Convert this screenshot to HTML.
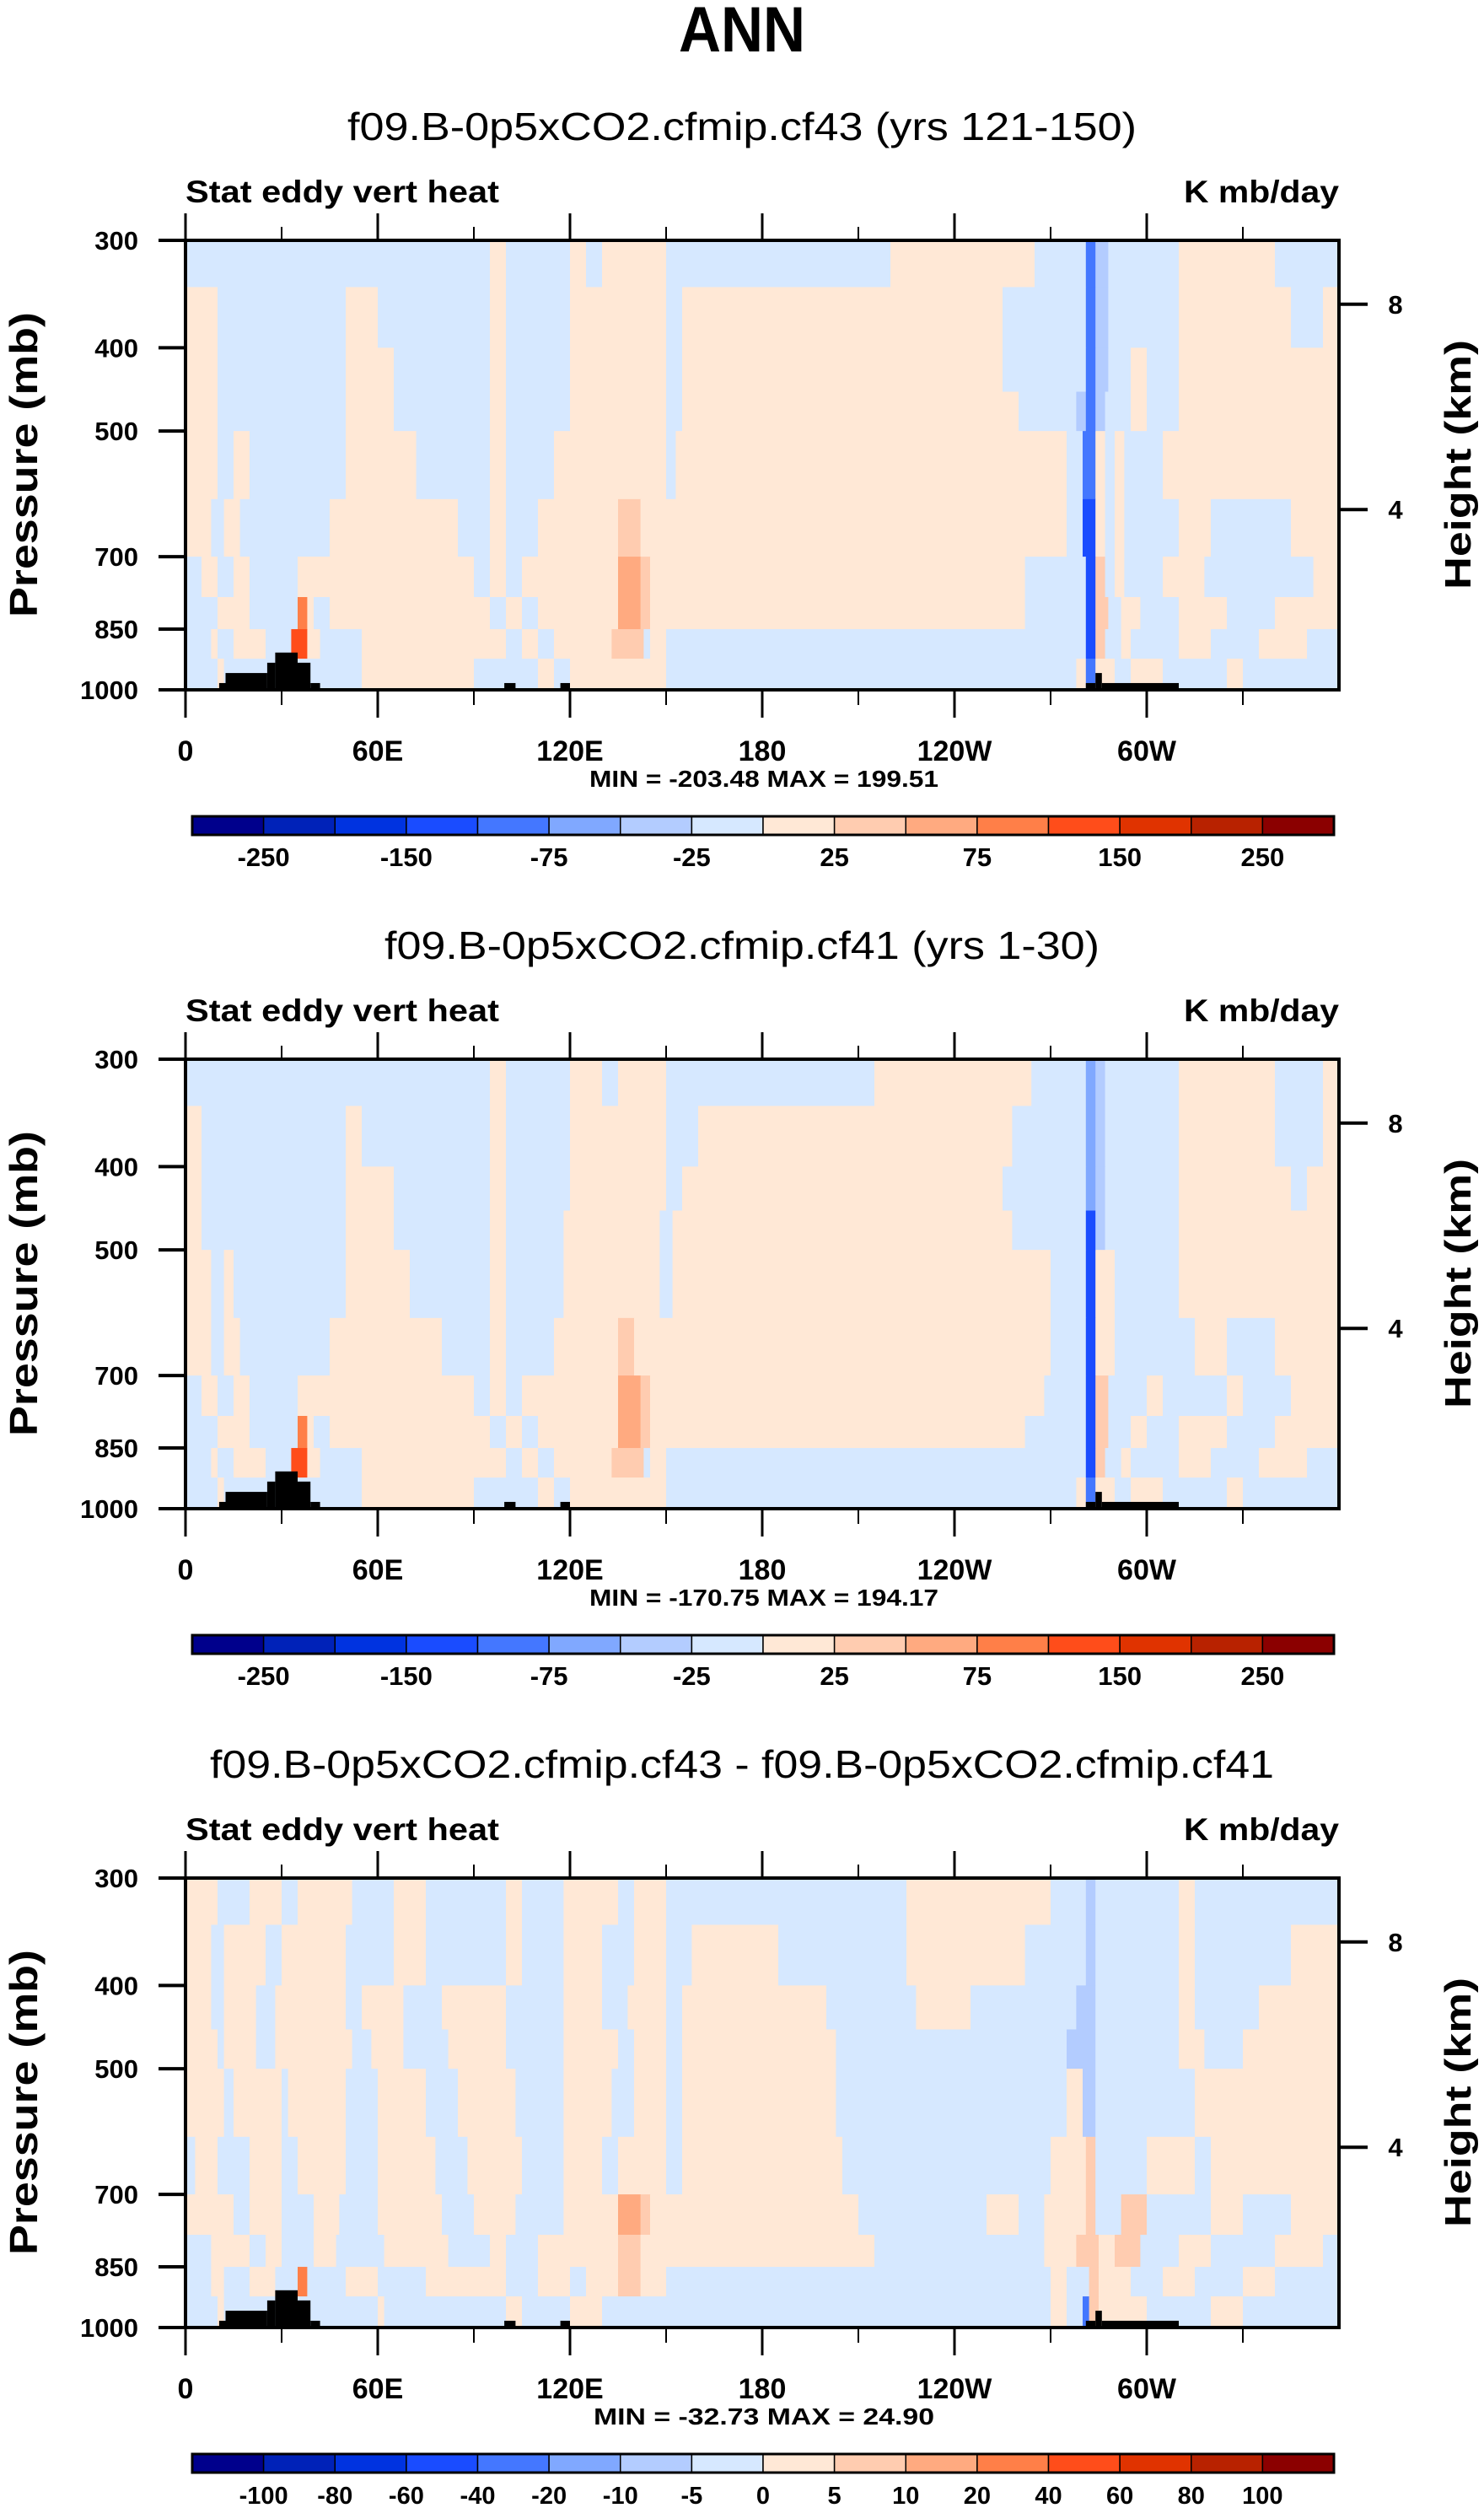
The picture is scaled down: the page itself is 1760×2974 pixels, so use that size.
<!DOCTYPE html>
<html><head><meta charset="utf-8"><title>ANN Stat eddy vert heat</title>
<style>
html,body{margin:0;padding:0;background:#fff;}
svg{display:block;font-family:"Liberation Sans",sans-serif;}
</style></head>
<body>
<svg id="chart" width="1760" height="2974" viewBox="0 0 1760 2974" xmlns="http://www.w3.org/2000/svg">
<text x="880" y="61" text-anchor="middle" font-size="76" font-weight="bold" textLength="150" lengthAdjust="spacingAndGlyphs">ANN</text>
</svg>
<script>
const rowEdges = [300, 340, 400, 450, 500, 600, 700, 780, 850, 920, 1000];
const lonTicksMajor = [0, 60, 120, 180, 240, 300];
const lonTickLabels = ["0", "60E", "120E", "180", "120W", "60W"];
const lonTicksMinor = [30, 90, 150, 210, 270, 330];
const presTicks = [300, 400, 500, 700, 850, 1000];
const heightTicks = [{km: 8, p: 356}, {km: 4, p: 617}];
const subtitles = ["f09.B-0p5xCO2.cfmip.cf43 (yrs 121-150)", "f09.B-0p5xCO2.cfmip.cf41 (yrs 1-30)", "f09.B-0p5xCO2.cfmip.cf43 - f09.B-0p5xCO2.cfmip.cf41"];
const subtitleWidths = [936, 848, 1262];
const minMaxText = ["MIN = -203.48  MAX = 199.51", "MIN = -170.75  MAX = 194.17", "MIN = -32.73  MAX =  24.90"];
const cbLabelsAbs = ["", "-250", "", "-150", "", "-75", "", "-25", "", "25", "", "75", "", "150", "", "250", ""];
const cbLabelsDiff = ["", "-100", "-80", "-60", "-40", "-20", "-10", "-5", "0", "5", "10", "20", "40", "60", "80", "100", ""];
const cbColors = ["#00008c","#0022b8","#0033e0","#1a4cff","#4477ff","#80a8ff","#b3ccff","#d6e8ff","#ffe8d6","#ffccb0","#ffaa80","#ff7f48","#ff4d1a","#e03300","#b82200","#8b0000"];
const codeColors = {b:"#d6e8ff", o:"#ffe8d6", x:"#ffccb0", X:"#ffaa80", r:"#ff7f48", R:"#ff4d1a", c:"#b3ccff", C:"#80a8ff", D:"#4477ff", E:"#1a4cff"};

const field1 = [
"b95 o100 b120 o125 b130 o150 b220 o265 b281 D284 c288 b310 o340 b360",
"o10 b50 o60 b95 o100 b120 o150 b155 o255 b281 D284 c288 b310 o345 b355 o360",
"o10 b50 o65 b95 o100 b120 o150 b155 o255 b281 D284 c288 b295 o300 b310 o360",
"o10 b50 o65 b95 o100 b120 o150 b155 o260 b278 c281 D284 c287 b295 o300 b310 o360",
"o10 b15 o20 b50 o72 b95 o100 b115 o150 b153 o275 b280 D284 o287 b290 o293 b305 o360",
"o8 b12 o17 b45 o85 b95 o100 b110 o135 x142 o275 b280 E284 o287 b290 o293 b310 o320 b345 o360",
"b5 o10 b15 o20 b35 o90 b95 o100 b105 o135 X142 x145 o262 b281 E284 x287 b290 o293 b305 o318 b352 o360",
"b10 o20 b35 r38 o40 b45 o95 b100 o105 b110 o135 X142 x145 o262 b281 E284 x288 b292 o298 b310 o325 b340 o360",
"b8 o10 b15 o25 b33 R38 o42 b55 o100 b105 o110 b115 o133 x143 b145 o150 b281 E284 x287 b292 o295 b310 o320 b335 o350 b360",
"b10 o12 b55 o90 b110 o115 b120 o150 b278 o281 D284 o290 b295 o305 b325 o330 b360"
];
const field2 = [
"b95 o100 b120 o130 b135 o150 b215 o264 b281 C284 c287 b310 o340 b355 o360",
"o5 b50 o55 b95 o100 b120 o150 b160 o258 b281 C284 c287 b310 o340 b355 o360",
"o5 b50 o65 b95 o100 b120 o150 b155 o255 b281 C284 c287 b310 o345 b350 o360",
"o5 b50 o65 b95 o100 b118 o148 b152 o258 b281 E284 c287 b310 o360",
"o8 b12 o15 b50 o70 b95 o100 b118 o148 b152 o270 b281 E284 o290 b310 o360",
"o8 b12 o17 b45 o80 b95 o100 b115 o135 x140 o270 b281 E284 o290 b315 o325 b340 o360",
"b5 o10 b15 o20 b35 o90 b95 o100 b105 o135 X142 x145 o268 b281 E284 x288 b300 o305 b325 o330 b345 o360",
"b10 o20 b35 r38 o40 b45 o95 b100 o105 b110 o135 X142 x145 o262 b281 E284 x288 b295 o300 b310 o325 b340 o360",
"b8 o10 b15 o25 b33 R38 o42 b55 o100 b105 o110 b115 o133 x143 b145 o150 b281 E284 x287 b292 o295 b310 o320 b335 o350 b360",
"b10 o12 b55 o90 b110 o115 b120 o150 b278 o281 D284 o290 b295 o305 b325 o330 b360"
];
const field3 = [
"o10 b20 o30 b35 o52 b65 o75 b100 o105 b118 o135 b140 o150 b225 o270 b281 c284 b310 o315 b360",
"o8 b12 o25 b30 o50 b65 o75 b100 o105 b118 o130 b140 o150 b158 o185 b225 o262 b281 c284 b310 o315 b345 o360",
"o8 b12 o22 b28 o50 b55 o68 b80 o100 b118 o130 b138 o150 b155 o200 b228 o245 b278 c284 b310 o315 b335 o360",
"o10 b12 o22 b28 o52 b58 o68 b82 o100 b118 o135 b140 o150 b155 o203 b275 c284 b310 o318 b330 o360",
"o12 b15 o30 b32 o50 b60 o75 b85 o103 b118 o133 b140 o150 b155 o203 b275 o280 c284 b315 o360",
"b3 o10 b20 o30 b35 o50 b60 o78 b88 o105 b118 o130 b135 o150 b155 o205 b270 o281 x284 b300 o315 b320 o360",
"o15 b20 o30 b40 o48 b60 o80 b90 o103 b118 o135 X142 x145 o210 b250 o260 b268 o281 x284 b292 x300 b320 o330 b345 o360",
"b8 o20 b25 o30 b40 o47 b62 o82 b95 o100 b110 o135 x142 o150 o215 b268 o278 x285 o290 x298 b310 o320 b340 o355 b360",
"b8 o12 b20 o28 b35 r38 b50 o60 b75 o100 b110 o120 b125 o135 x142 o150 b270 o275 b282 x285 o295 b305 o315 b330 o340 b360",
"b10 o12 b60 o62 b100 o105 b120 o130 b270 o275 b280 D282 x285 o300 b320 o330 b360"
];
const fields = [field1, field2, field3];
const terrainLonStart = [10.5, 12.5, 25.5, 28, 35, 39, 99.5, 117, 281, 284, 286];
const terrainLonEnd   = [12.5, 25.5, 28, 35, 39, 42, 103, 120, 284, 286, 310];
const terrainTopP     = [982, 956, 930, 905, 930, 982, 982, 982, 982, 956, 982];

const NS = "http://www.w3.org/2000/svg";
const svg = document.getElementById('chart');
function mk(tag, attrs, parent, text) {
  const e = document.createElementNS(NS, tag);
  for (const k in attrs) e.setAttribute(k, attrs[k]);
  if (text !== undefined) e.textContent = text;
  (parent || svg).appendChild(e);
  return e;
}
const L = 220, R = 1588, PH = 533, OFF = 971, TOP0 = 285;

for (let k = 0; k < 3; k++) {
  const top = TOP0 + k * OFF, bot = top + PH;
  const xs = lon => L + lon / 360 * (R - L);
  const ys = p => top + Math.log(p / 300) / Math.log(1000 / 300) * PH;
  const g = mk('g', {});
  
  

  const st = mk('text', {x: 880, y: top - 119, 'text-anchor': 'middle', 'font-size': 46, textLength: subtitleWidths[k], lengthAdjust: 'spacingAndGlyphs'}, g, subtitles[k]);
  
  
  const lt = mk('text', {x: L, y: top - 45, 'font-size': 37, 'font-weight': 'bold', textLength: 372, lengthAdjust: 'spacingAndGlyphs'}, g, 'Stat eddy vert heat');
  
  
  const ut = mk('text', {x: R, y: top - 45, 'text-anchor': 'end', 'font-size': 37, 'font-weight': 'bold', textLength: 184, lengthAdjust: 'spacingAndGlyphs'}, g, 'K mb/day');
  
  

  const fg = mk('g', {}, g);
  
  
  const rows = fields[k];
  for (let r = 0; r < rows.length; r++) {
    const y0 = ys(rowEdges[r]), y1 = ys(rowEdges[r + 1]);
    let start = 0;
    rows[r].split(' ').forEach(tok => {
      const code = tok[0], end = parseFloat(tok.slice(1));
      if (end > start) {
        const c = mk('rect', {x: xs(start), y: y0, width: xs(end) - xs(start) + 0.6, height: y1 - y0 + 0.6, fill: codeColors[code]}, fg);
        
        
      }
      start = end;
    });
  }
  for (let i = 0; i < terrainLonStart.length; i++) {
    const t = mk('rect', {x: xs(terrainLonStart[i]), y: ys(terrainTopP[i]), width: xs(terrainLonEnd[i]) - xs(terrainLonStart[i]), height: bot - ys(terrainTopP[i]), fill: '#000'}, g);
    
    
  }
  const fr = mk('rect', {x: L, y: top, width: R - L, height: PH, fill: 'none', stroke: '#000', 'stroke-width': 4}, g);
  
  

  lonTicksMajor.forEach((lon, i) => {
    const x = xs(lon);
    mk('line', {x1: x, x2: x, y1: top - 32, y2: top, stroke: '#000', 'stroke-width': 3}, g);
    mk('line', {x1: x, x2: x, y1: bot, y2: bot + 33, stroke: '#000', 'stroke-width': 3}, g);
    const tl = mk('text', {x: x, y: bot + 84, 'text-anchor': 'middle', 'font-size': 34, 'font-weight': 'bold'}, g, lonTickLabels[i]);
    
    
  });
  lonTicksMinor.forEach(lon => {
    const x = xs(lon);
    mk('line', {x1: x, x2: x, y1: top - 16, y2: top, stroke: '#000', 'stroke-width': 2}, g);
    mk('line', {x1: x, x2: x, y1: bot, y2: bot + 18, stroke: '#000', 'stroke-width': 2}, g);
  });
  presTicks.forEach(p => {
    const y = ys(p);
    mk('line', {x1: L - 32, x2: L, y1: y, y2: y, stroke: '#000', 'stroke-width': 4}, g);
    const yl = mk('text', {x: 164, y: y + 11, 'text-anchor': 'end', 'font-size': 31, 'font-weight': 'bold'}, g, String(p));
    
    
  });
  heightTicks.forEach(h => {
    const y = ys(h.p);
    mk('line', {x1: R, x2: R + 34, y1: y, y2: y, stroke: '#000', 'stroke-width': 4}, g);
    const hl = mk('text', {x: 1655, y: y + 11, 'text-anchor': 'middle', 'font-size': 31, 'font-weight': 'bold'}, g, String(h.km));
    
    
  });
  const cy = top + 266;
  const pl = mk('text', {x: 44, y: cy, 'text-anchor': 'middle', 'font-size': 46, 'font-weight': 'bold', transform: `rotate(-90 44 ${cy})`, textLength: 362, lengthAdjust: 'spacingAndGlyphs'}, g, 'Pressure (mb)');
  
  
  const hl2 = mk('text', {x: 1744, y: cy, 'text-anchor': 'middle', 'font-size': 44, 'font-weight': 'bold', transform: `rotate(-90 1744 ${cy})`, textLength: 296, lengthAdjust: 'spacingAndGlyphs'}, g, 'Height (km)');
  
  
  const mm = mk('text', {x: 906, y: top + 648, 'text-anchor': 'middle', 'font-size': 28, 'font-weight': 'bold', textLength: k === 2 ? 404 : 414, lengthAdjust: 'spacingAndGlyphs', 'xml:space': 'preserve'}, g, minMaxText[k]);
  
  

  const cbg = mk('g', {}, g);
  
  
  const cbL = 228, cbR = 1582, cbT = top + 683, cbH = 22, bw = (cbR - cbL) / cbColors.length;
  cbColors.forEach((col, i) => {
    const b = mk('rect', {x: cbL + i * bw, y: cbT, width: bw, height: cbH, fill: col, stroke: '#000', 'stroke-width': 1.5}, cbg);
    
    
  });
  mk('rect', {x: cbL, y: cbT, width: cbR - cbL, height: cbH, fill: 'none', stroke: '#000', 'stroke-width': 3}, cbg);
  const labs = k === 2 ? cbLabelsDiff : cbLabelsAbs;
  labs.forEach((s, i) => {
    if (!s) return;
    const cl = mk('text', {x: cbL + i * bw, y: top + 742, 'text-anchor': 'middle', 'font-size': k === 2 ? 29 : 31, 'font-weight': 'bold'}, cbg, s);
    
    
  });
}
</script>
</body></html>
